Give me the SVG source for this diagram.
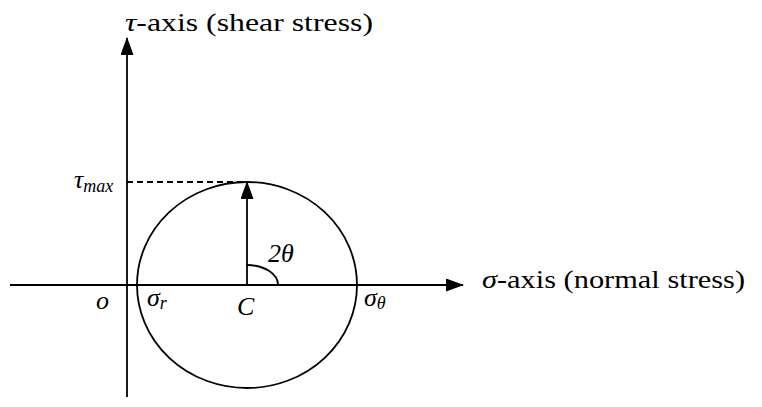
<svg xmlns="http://www.w3.org/2000/svg" width="762" height="407" viewBox="0 0 762 407">
<style>
.ln{stroke:#000;stroke-width:1.8;fill:none}
.t{font-family:"Liberation Serif","Times New Roman",serif;fill:#000}
.i{font-style:italic}
</style>
<defs>
<marker id="ah" markerWidth="18" markerHeight="13" refX="17" refY="6.5" orient="auto" markerUnits="userSpaceOnUse">
<path d="M0,0 L18,6.5 L0,13 Z" fill="#000"/>
</marker>
</defs>
<rect width="762" height="407" fill="#fff"/>
<g id="connectors">
<line class="ln" x1="127" y1="397" x2="127" y2="38" marker-end="url(#ah)"/>
<line class="ln" x1="10" y1="285" x2="463" y2="285" marker-end="url(#ah)"/>
<line class="ln" x1="127" y1="182" x2="247" y2="182" stroke-dasharray="6,4"/>
<line class="ln" x1="247" y1="285" x2="247" y2="182" marker-end="url(#ah)"/>
<path class="ln" d="M247,265 A31,20 0 0 1 278,285"/>
</g>
<g id="circle"><ellipse class="ln" cx="247" cy="285" rx="110" ry="103"/></g>
<g id="tau-label"><text class="t" x="125" y="31" font-size="26" textLength="248" lengthAdjust="spacingAndGlyphs"><tspan class="i">τ</tspan>-axis (shear stress)</text></g>
<g id="sigma-label"><text class="t" x="482" y="288" font-size="26" textLength="263" lengthAdjust="spacingAndGlyphs"><tspan class="i">σ</tspan>-axis (normal stress)</text></g>
<g id="taumax"><text class="t i" x="74" y="188" font-size="26">τ<tspan font-size="18" dy="4">max</tspan></text></g>
<g id="origin"><text class="t i" x="96" y="309" font-size="26">o</text></g>
<g id="sigma-r"><text class="t i" x="147" y="306" font-size="26">σ<tspan font-size="18" dy="3">r</tspan></text></g>
<g id="center"><text class="t i" x="237" y="315" font-size="26">C</text></g>
<g id="sigma-theta"><text class="t i" x="364" y="306" font-size="26">σ<tspan font-size="18" dy="3">θ</tspan></text></g>
<g id="angle"><text class="t i" x="268" y="262" font-size="26">2θ</text></g>
</svg>
